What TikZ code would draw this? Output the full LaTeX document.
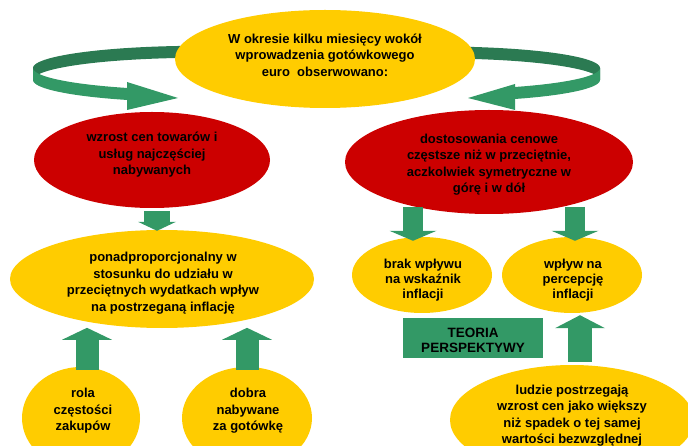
\documentclass[tikz,border=0pt]{standalone}
\usepackage{fontspec}
\setmainfont{Liberation Sans}
\usetikzlibrary{shapes.geometric,arrows.meta,calc}
\definecolor{ye}{RGB}{255,204,0}
\definecolor{rd}{RGB}{204,0,0}
\definecolor{gr}{RGB}{51,153,102}
\definecolor{grdark}{RGB}{43,122,82}
\tikzset{
  oval/.style={ellipse, inner sep=0pt, draw=none},
  yoval/.style={oval, fill=ye},
  roval/.style={oval, fill=rd},
  txt/.style={align=center, inner sep=0pt, text=black,
    font=\fontsize{13}{16.5}\selectfont\bfseries},
  blockarrow/.style={draw=gr, line width=#1},
  blockarrow/.default=24pt,
}
\begin{document}
\begin{tikzpicture}[x=1pt, y=-1pt]
\useasboundingbox (0,0) rectangle (688,446);
\clip (0,0) rectangle (688,446);

% left ribbon arrow circling the heading
\fill[grdark] plot[domain=265:180, samples=40] ({200+167*cos(\x)}, {68+22.2*sin(\x)})
  -- plot[domain=180:265, samples=40] ({200+167*cos(\x)}, {80+22.2*sin(\x)}) -- cycle;
\fill[gr] plot[domain=180:116, samples=40] ({200+167*cos(\x)}, {68+22.2*sin(\x)})
  -- plot[domain=116:180, samples=40] ({200+167*cos(\x)}, {80+22.2*sin(\x)}) -- cycle;
\fill[gr] (127,82) -- (178,98) -- (127,110) -- cycle;

% right ribbon arrow circling the heading
\fill[grdark] plot[domain=-85:0, samples=40] ({440+160*cos(\x)}, {68+21.5*sin(\x)})
  -- plot[domain=0:-85, samples=40] ({440+160*cos(\x)}, {80+21.5*sin(\x)}) -- cycle;
\fill[gr] plot[domain=0:62, samples=40] ({440+160*cos(\x)}, {68+21.5*sin(\x)})
  -- plot[domain=62:0, samples=40] ({440+160*cos(\x)}, {80+21.5*sin(\x)}) -- cycle;
\fill[gr] (515,84) -- (468,98) -- (515,110) -- cycle;

% ovals
\node[yoval, minimum width=300pt, minimum height=98pt] (top) at (325,59) {};
\node[roval, minimum width=236pt, minimum height=96pt] (red1) at (152,160) {};
\node[roval, minimum width=288pt, minimum height=104pt] (red2) at (489,162) {};
\node[yoval, minimum width=304pt, minimum height=98pt] (mid) at (162,279) {};
\node[yoval, minimum width=140pt, minimum height=76pt] (brak) at (422,275) {};
\node[yoval, minimum width=140pt, minimum height=76pt] (wplyw) at (572,275) {};
\node[yoval, minimum width=118pt, minimum height=102pt] (rola) at (81,418) {};
\node[yoval, minimum width=130pt, minimum height=102pt] (dobra) at (247,418) {};
\node[yoval, minimum width=244pt, minimum height=110pt] (ludzie) at (572,420) {};
\node[fill=gr, minimum width=140pt, minimum height=40pt, inner sep=0pt] (teoria) at (473,338) {};

% texts
\node[txt] (topT) at ($(top.center)+(0,-4)$)
  {W okresie kilku miesięcy wokół\\wprowadzenia gotówkowego\\euro\ \ obserwowano:};
\node[txt] (red1T) at ($(red1.center)+(0,-5)$)
  {wzrost cen towarów i\\usług najczęściej\\nabywanych};
\node[txt] (red2T) at ($(red2.center)+(0,2.5)$)
  {dostosowania cenowe\\częstsze niż w przeciętnie,\\aczkolwiek symetryczne w\\górę i w dół};
\node[txt] (midT) at ($(mid.center)+(1,4)$)
  {ponadproporcjonalny w\\stosunku do udziału w\\przeciętnych wydatkach wpływ\\na postrzeganą inflację};
\node[txt, font=\fontsize{13}{15}\selectfont\bfseries] (brakT) at ($(brak.center)+(1,5)$)
  {brak wpływu\\na wskaźnik\\inflacji};
\node[txt, font=\fontsize{13}{15}\selectfont\bfseries] (wplywT) at ($(wplyw.center)+(1,5)$)
  {wpływ na\\percepcję\\inflacji};
\node[txt] (rolaT) at ($(rola.center)+(2,-7)$) {rola\\częstości\\zakupów};
\node[txt] (dobraT) at ($(dobra.center)+(1,-7)$) {dobra\\nabywane\\za gotówkę};
\node[txt] (ludzieT) at ($(ludzie.center)+(0,-4.5)$)
  {ludzie postrzegają\\wzrost cen jako większy\\niż spadek o tej samej\\wartości bezwzględnej};
\node[txt, font=\fontsize{13.5}{15}\selectfont\bfseries] (teoriaT) at ($(teoria.center)+(0,2)$)
  {TEORIA\\PERSPEKTYWY};

% block arrows between ovals
\draw[blockarrow=26pt, -{Triangle[line width=0pt, length=9pt, width=38pt]}]
  ($(red1.south)+(5,3)$) -- ($(mid.north)+(-5,1)$);
\draw[blockarrow=20pt, -{Triangle[line width=0pt, length=10pt, width=47pt]}]
  ($(brak.north)+(-9,-30)$) -- ($(brak.north)+(-9,4)$);
\draw[blockarrow=20pt, -{Triangle[line width=0pt, length=10pt, width=47pt]}]
  ($(wplyw.north)+(3,-30)$) -- ($(wplyw.north)+(3,4)$);
\draw[blockarrow=23pt, -{Triangle[line width=0pt, length=12pt, width=50pt]}]
  ($(rola.north)+(6,3)$) -- ($(rola.north)+(6,-39)$);
\draw[blockarrow=23pt, -{Triangle[line width=0pt, length=12pt, width=50pt]}]
  ($(dobra.north)+(0,3)$) -- ($(dobra.north)+(0,-39)$);
\draw[blockarrow=24pt, -{Triangle[line width=0pt, length=13pt, width=50pt]}]
  ($(ludzie.north)+(8,-3)$) -- ($(wplyw.south)+(8,2)$);
\end{tikzpicture}
\end{document}
